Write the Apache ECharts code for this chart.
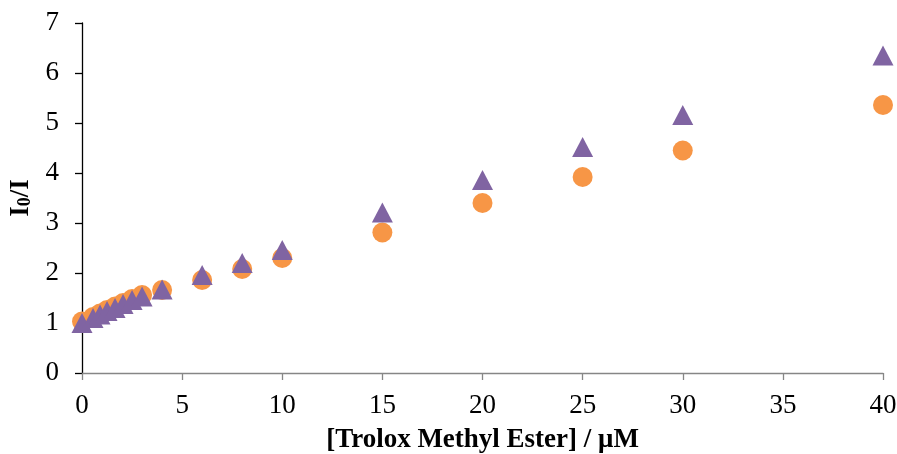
<!DOCTYPE html>
<html><head><meta charset="utf-8">
<script src="https://cdn.jsdelivr.net/npm/echarts@6/dist/echarts.min.js"></script>
<style>html,body{margin:0;padding:0;background:#fff}#c{width:897px;height:454px}</style>
</head><body><div id="c"></div>
<script>
const conc = [0, 0.55, 0.9, 1.25, 1.65, 2.05, 2.5, 3, 4, 6, 8, 10, 15, 20, 25, 30, 40];
const orangeVals = [1.03, 1.12, 1.19, 1.26, 1.33, 1.40, 1.48, 1.56, 1.66, 1.86, 2.08, 2.30, 2.81, 3.40, 3.92, 4.45, 5.36];
const purpleVals = [1.00, 1.10, 1.17, 1.24, 1.30, 1.38, 1.46, 1.53, 1.67, 1.96, 2.20, 2.46, 3.21, 3.86, 4.52, 5.16, 6.35];
const xTicks = [0, 5, 10, 15, 20, 25, 30, 35, 40];
const yTicks = [0, 1, 2, 3, 4, 5, 6, 7];
const xTitle = '[Trolox Methyl Ester] / \u03bcM';

const font = '"Liberation Serif", "Times New Roman", serif';
const chart = echarts.init(document.getElementById('c'));
chart.setOption({
  animation: false,
  backgroundColor: '#fff',
  grid: {left: 82, right: 14, top: 23, bottom: 81, containLabel: false, outerBoundsMode: 'none'},
  xAxis: {
    type: 'value', min: xTicks[0], max: xTicks[xTicks.length-1], interval: 5,
    splitLine: {show: false},
    axisLine: {onZero: false, lineStyle: {color: '#868686', width: 1.3}},
    axisTick: {length: 7, lineStyle: {color: '#868686', width: 1.3}},
    axisLabel: {color: '#000', fontFamily: font, fontSize: 27, margin: 19},
    name: xTitle, nameLocation: 'middle', nameGap: 54,
    nameTextStyle: {color: '#000', fontFamily: font, fontSize: 27, fontWeight: 'bold'}
  },
  yAxis: {
    type: 'value', min: yTicks[0], max: yTicks[yTicks.length-1], interval: 1,
    splitLine: {show: false},
    axisLine: {show: true, lineStyle: {color: '#000', width: 1.3}},
    axisTick: {show: true, length: 7, lineStyle: {color: '#000', width: 1.3}},
    axisLabel: {color: '#000', fontFamily: font, fontSize: 27, margin: 23},
    name: '{a|I}{s|0}{a|/I}', nameLocation: 'middle', nameGap: 33, nameRotate: 90,
    nameTextStyle: {
      rich: {
        a: {fontFamily: font, fontSize: 27, fontWeight: 'bold', color: '#000', lineHeight: 30, verticalAlign: 'top'},
        s: {fontFamily: font, fontSize: 18, fontWeight: 'bold', color: '#000', lineHeight: 30, verticalAlign: 'top', padding: [9, 0, 0, 0]}
      }
    }
  },
  series: [
    {type: 'scatter', symbol: 'circle', symbolSize: 20, itemStyle: {color: '#F79646', opacity: 1},
     data: conc.map((x, i) => [x, orangeVals[i]]), z: 2},
    {type: 'scatter', symbol: 'triangle', symbolSize: [21, 20], itemStyle: {color: '#8064A2', opacity: 1},
     data: conc.map((x, i) => [x, purpleVals[i]]), z: 3}
  ]
});
</script></body></html>
